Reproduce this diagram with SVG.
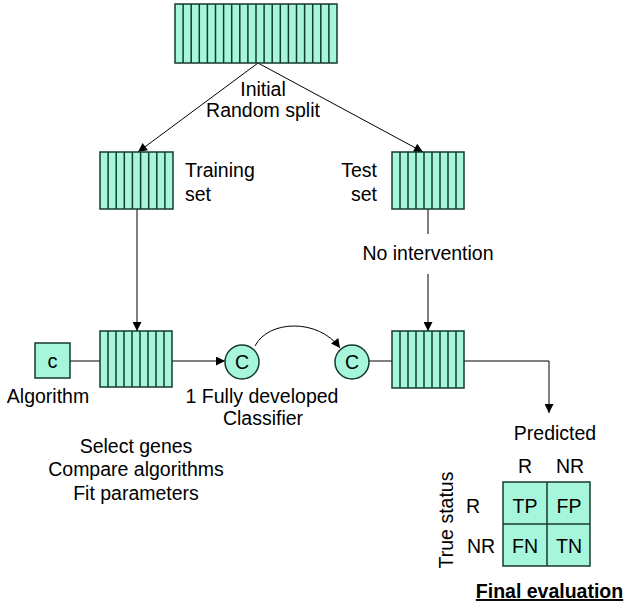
<svg xmlns="http://www.w3.org/2000/svg" width="630" height="609" viewBox="0 0 630 609">
<defs>
<marker id="arr" viewBox="0 0 10 10" refX="10" refY="5" markerWidth="11" markerHeight="9" markerUnits="userSpaceOnUse" orient="auto">
<path d="M0,0 L10,5 L0,10 Z" fill="#000"/>
</marker>
<style>
.box{fill:#a6f6dc;stroke:#163a30;stroke-width:1.5}
.stripe{stroke:#163a30;stroke-width:1.5;fill:none}
.ln{stroke:#000;stroke-width:1;fill:none}
text{font-family:"Liberation Sans",Arial,sans-serif;font-size:19.5px;fill:#000}
.mid{text-anchor:middle}
.end{text-anchor:end}
</style>
</defs>
<rect width="630" height="609" fill="#fff"/>

<g id="connectors">
<line class="ln" x1="258" y1="63" x2="138" y2="152" marker-end="url(#arr)"/>
<line class="ln" x1="258" y1="63" x2="423" y2="152" marker-end="url(#arr)"/>
<line class="ln" x1="137" y1="209" x2="137" y2="331" marker-end="url(#arr)"/>
<line class="ln" x1="428" y1="209" x2="428" y2="234"/>
<line class="ln" x1="428" y1="274" x2="428" y2="331" marker-end="url(#arr)"/>
<line class="ln" x1="70" y1="361" x2="100" y2="361"/>
<line class="ln" x1="172" y1="361" x2="225" y2="361" marker-end="url(#arr)"/>
<path class="ln" d="M255,346 C268,320 318,318 340,348" marker-end="url(#arr)"/>
<line class="ln" x1="369" y1="361" x2="392" y2="361"/>
<polyline class="ln" points="464,361 549,361 549,413" marker-end="url(#arr)"/>
</g>

<g id="data">
<rect class="box" x="175" y="4" width="162" height="59"/>
<path class="stripe" d="M183.1,4V63M191.2,4V63M199.3,4V63M207.4,4V63M215.5,4V63M223.6,4V63M231.7,4V63M239.8,4V63M247.9,4V63M256,4V63M264.1,4V63M272.2,4V63M280.3,4V63M288.4,4V63M296.5,4V63M304.6,4V63M312.7,4V63M320.8,4V63M328.9,4V63"/>
</g>
<g id="split-label">
<text class="mid" x="263" y="96">Initial</text>
<text class="mid" x="263" y="117">Random split</text>
</g>

<g id="training">
<rect class="box" x="100" y="152" width="73" height="57"/>
<path class="stripe" d="M108.1,152V209M116.2,152V209M124.3,152V209M132.4,152V209M140.6,152V209M148.7,152V209M156.8,152V209M164.9,152V209"/>
<text x="185" y="177">Training</text>
<text x="185" y="201">set</text>
</g>

<g id="test">
<rect class="box" x="392" y="152" width="72" height="57"/>
<path class="stripe" d="M400,152V209M408,152V209M416,152V209M424,152V209M432,152V209M440,152V209M448,152V209M456,152V209"/>
<text class="end" x="377" y="177">Test</text>
<text class="end" x="377" y="201">set</text>
</g>

<g id="no-intervention">
<text class="mid" x="428" y="260">No intervention</text>
</g>

<g id="algorithm">
<rect class="box" x="35" y="343" width="35" height="35"/>
<text class="mid" x="52.5" y="368" style="font-size:20px">c</text>
<text class="mid" x="48" y="403">Algorithm</text>
</g>

<g id="train-work">
<rect class="box" x="100" y="331" width="72" height="56"/>
<path class="stripe" d="M108,331V387M116,331V387M124,331V387M132,331V387M140,331V387M148,331V387M156,331V387M164,331V387"/>
<text class="mid" x="136" y="453">Select genes</text>
<text class="mid" x="136" y="476">Compare algorithms</text>
<text class="mid" x="136" y="500">Fit parameters</text>
</g>

<g id="classifier1">
<circle class="box" cx="242" cy="362" r="17"/>
<text class="mid" x="242" y="369">C</text>
<text class="mid" x="262" y="403">1 Fully developed</text>
<text class="mid" x="263" y="425">Classifier</text>
</g>

<g id="classifier2">
<circle class="box" cx="352" cy="362" r="17"/>
<text class="mid" x="352" y="369">C</text>
</g>

<g id="test-work">
<rect class="box" x="392" y="331" width="72" height="57"/>
<path class="stripe" d="M400,331V388M408,331V388M416,331V388M424,331V388M432,331V388M440,331V388M448,331V388M456,331V388"/>
</g>

<g id="evaluation">
<text class="mid" x="555" y="440">Predicted</text>
<text class="mid" x="525" y="473">R</text>
<text class="mid" x="570" y="473">NR</text>
<text class="mid" transform="translate(453,520) rotate(-90)">True status</text>
<text class="mid" x="473" y="513">R</text>
<text class="mid" x="481" y="553">NR</text>
<rect class="box" x="503" y="482" width="87" height="84"/>
<line class="stripe" x1="547" y1="482" x2="547" y2="566"/>
<line class="stripe" x1="503" y1="524" x2="590" y2="524"/>
<text class="mid" x="525" y="513">TP</text>
<text class="mid" x="569" y="513">FP</text>
<text class="mid" x="525" y="553">FN</text>
<text class="mid" x="569" y="553">TN</text>
<text class="mid" x="549.5" y="598" style="font-weight:bold;text-decoration:underline">Final evaluation</text>
</g>
</svg>
